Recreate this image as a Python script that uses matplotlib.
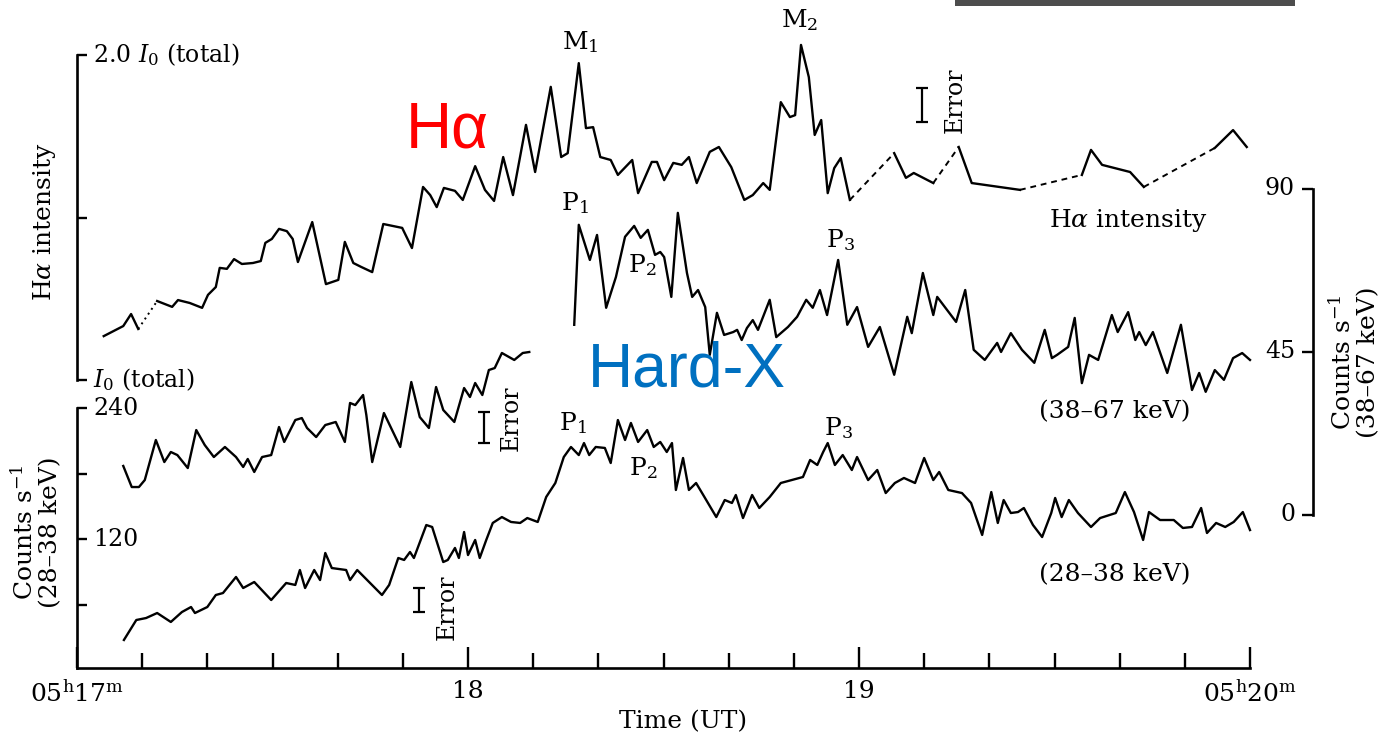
import matplotlib
matplotlib.use("Agg")
import matplotlib.pyplot as plt
from matplotlib.patches import Rectangle
import numpy as np

plt.rcParams['font.family'] = ['DejaVu Serif']
plt.rcParams['mathtext.fontset'] = 'dejavuserif'

# ---------------- data (time in seconds after 05h17m00s) ----------------
# H-alpha intensity (units of I0 total)
ha_t = [4.1, 7.1, 8.3, 9.4, 12.3, 14.6, 15.5, 17.3, 19.2, 20.1,
        21.3, 21.9, 23.0, 24.1, 25.3, 27.0, 28.2, 28.9, 29.9, 31.0,
        32.2, 33.1, 33.9, 36.1, 38.2, 40.1, 41.1, 42.4, 43.6, 45.3,
        47.0, 49.9, 51.4, 53.1, 54.2, 55.2, 56.3, 58.0, 59.2, 61.1,
        62.6, 64.0, 65.4, 66.9, 68.9, 70.3, 72.7, 74.3, 75.3, 77.0,
        78.1, 79.2, 80.3, 81.9, 83.0, 85.2, 86.1, 88.2, 89.0, 90.1,
        91.5, 92.8, 93.9, 95.1, 97.1, 98.5, 100.4, 102.4, 103.7, 105.3,
        106.3, 108.0, 109.4, 110.2, 111.1, 112.3, 113.2, 114.2, 115.2, 116.2,
        117.2, 118.6, 125.4, 127.2, 128.4, 131.4, 135.3, 137.3, 144.7, 154.2,
        155.6, 157.3, 161.6, 163.7, 174.6, 177.4, 179.5]
ha_v = [1.135, 1.166, 1.203, 1.157, 1.243, 1.225, 1.246, 1.237, 1.222, 1.262,
        1.286, 1.345, 1.342, 1.372, 1.357, 1.360, 1.366, 1.422, 1.434, 1.465,
        1.458, 1.434, 1.363, 1.486, 1.295, 1.308, 1.425, 1.360, 1.348, 1.332,
        1.480, 1.468, 1.406, 1.594, 1.569, 1.532, 1.591, 1.582, 1.554, 1.658,
        1.585, 1.551, 1.686, 1.569, 1.785, 1.640, 1.902, 1.686, 1.698, 1.975,
        1.775, 1.778, 1.686, 1.677, 1.631, 1.677, 1.575, 1.671, 1.671, 1.615,
        1.668, 1.662, 1.686, 1.606, 1.702, 1.717, 1.655, 1.554, 1.569, 1.606,
        1.585, 1.855, 1.809, 1.815, 2.031, 1.932, 1.754, 1.800, 1.575, 1.652,
        1.683, 1.554, 1.698, 1.622, 1.637, 1.606, 1.717, 1.606, 1.585, 1.631,
        1.708, 1.662, 1.640, 1.594, 1.714, 1.769, 1.717]
# indices i where the segment i -> i+1 is interpolated (broken line)
ha_gaps = [3, 81, 85, 88, 93]

# Hard X-ray 38-67 keV (counts/s, right axis)
hx_hi_t = [76.3, 77.0, 78.7, 79.8, 81.2, 82.7, 84.1, 85.5, 86.5, 87.6,
           88.7, 89.5, 90.1, 91.2, 92.2, 93.6, 94.4, 95.3, 96.4, 97.1,
           98.2, 99.3, 100.7, 101.3, 102.0, 102.8, 103.7, 104.5, 106.3, 107.3,
           109.1, 110.5, 111.9, 112.9, 114.0, 115.1, 116.8, 118.2, 119.7, 121.4,
           123.2, 125.4, 127.4, 128.1, 129.8, 131.4, 132.0, 134.9, 136.3, 137.6,
           139.3, 141.2, 141.8, 143.3, 145.0, 146.9, 148.5, 149.6, 150.4, 152.1,
           153.1, 154.2, 155.3, 156.7, 158.8, 159.7, 161.3, 162.4, 163.0, 164.0,
           165.1, 167.3, 169.4, 171.1, 172.2, 173.2, 174.6, 176.0, 177.4, 178.8,
           180.0]
hx_hi_v = [52.5, 80.1, 70.4, 77.3, 57.2, 65.7, 76.8, 79.8, 76.5, 78.7,
           71.8, 72.6, 71.2, 60.2, 83.4, 66.8, 60.2, 62.1, 57.4, 44.2,
           55.8, 49.7, 50.5, 51.1, 48.3, 51.6, 53.8, 51.1, 59.4, 49.1,
           51.9, 54.7, 59.4, 57.2, 62.1, 55.2, 70.4, 52.5, 57.4, 46.4,
           51.9, 38.7, 54.7, 50.2, 66.8, 55.2, 60.2, 53.3, 62.1, 45.6,
           42.8, 47.5, 45.0, 50.2, 45.6, 42.0, 51.1, 43.3, 44.2, 46.4,
           54.4, 36.4, 44.2, 42.8, 55.2, 50.5, 56.0, 48.3, 50.5, 46.9,
           50.5, 39.2, 52.5, 34.5, 39.2, 34.0, 40.0, 37.3, 43.3, 44.7,
           42.8]

# Hard X-ray early-phase trace (left lower axis)
hx_early_t = [7.1, 8.4, 9.5, 10.4, 12.1, 13.4, 14.4, 15.4, 17.0, 18.3,
              19.6, 21.0, 22.7, 24.4, 25.5, 26.2, 27.2, 28.4, 29.8, 31.0,
              31.8, 33.5, 34.5, 35.3, 36.7, 38.1, 39.7, 41.1, 41.9, 42.7,
              43.9, 44.4, 45.3, 47.1, 49.6, 51.3, 52.6, 54.0, 55.1, 56.2,
              57.9, 59.4, 60.3, 61.1, 62.2, 63.2, 64.1, 65.2, 67.1, 68.4,
              69.4]
hx_early_v = [186.9, 167.6, 167.6, 174.0, 210.7, 190.5, 199.7, 196.9, 185.0, 219.8,
              206.1, 195.1, 204.3, 195.1, 186.0, 193.3, 181.4, 195.1, 196.9, 222.6,
              208.9, 229.0, 230.8, 221.7, 213.4, 224.4, 227.2, 208.9, 244.6, 242.7,
              251.9, 233.6, 190.5, 235.4, 204.3, 263.8, 231.7, 221.7, 259.2, 238.2,
              227.2, 258.3, 250.1, 262.9, 251.9, 274.8, 276.6, 290.4, 284.0, 290.4,
              291.3]

# Hard X-ray 28-38 keV (counts/s, left lower axis)
hx_lo_t = [7.2, 9.1, 10.6, 12.3, 14.4, 16.1, 17.5, 18.1, 20.0, 21.3,
           22.4, 24.4, 25.5, 27.2, 29.8, 32.1, 33.5, 34.2, 35.0, 36.4,
           37.3, 38.1, 39.1, 41.3, 41.9, 43.0, 46.8, 47.9, 49.3, 50.2,
           51.1, 51.7, 53.6, 54.5, 56.2, 56.9, 58.0, 58.6, 59.4, 60.0,
           61.1, 61.8, 62.8, 63.8, 65.2, 66.6, 68.0, 69.1, 70.7, 72.0,
           73.4, 74.7, 75.8, 77.0, 77.8, 78.6, 79.6, 81.0, 81.9, 83.0,
           84.1, 85.0, 86.1, 87.5, 88.5, 89.5, 90.5, 91.3, 91.9, 93.0,
           93.9, 95.0, 96.1, 98.1, 99.4, 100.5, 101.1, 102.2, 103.6, 104.7,
           106.3, 108.0, 109.7, 111.4, 112.5, 113.6, 114.5, 115.2, 116.3, 117.5,
           118.9, 119.7, 121.4, 122.8, 124.1, 125.5, 126.9, 128.6, 130.0, 131.4,
           132.3, 133.7, 135.8, 137.2, 138.9, 140.3, 141.3, 142.2, 143.3, 144.4,
           145.3, 146.7, 148.1, 149.5, 150.1, 151.1, 152.2, 153.6, 155.6, 157.0,
           159.4, 160.8, 162.2, 163.6, 164.5, 166.2, 168.3, 169.7, 171.1, 172.5,
           173.4, 174.8, 176.2, 177.5, 178.9, 180.0]
hx_lo_v = [27.5, 45.8, 47.6, 52.2, 44.0, 53.1, 57.7, 52.2, 57.7, 68.7,
           70.5, 85.2, 75.1, 80.6, 64.1, 79.7, 77.9, 91.6, 75.1, 91.6,
           82.4, 107.2, 93.4, 91.6, 82.4, 91.6, 68.7, 77.9, 102.6, 100.8,
           108.1, 102.6, 132.8, 131.0, 98.9, 100.8, 111.8, 102.6, 126.4, 105.3,
           119.1, 102.6, 119.1, 134.7, 140.1, 135.6, 134.7, 139.2, 135.6, 158.5,
           171.3, 195.1, 204.3, 196.9, 207.9, 196.9, 204.3, 203.4, 189.6, 229.0,
           210.7, 226.3, 208.9, 219.8, 204.3, 208.9, 199.7, 207.9, 164.9, 194.2,
           164.9, 171.3, 160.3, 140.1, 155.7, 153.0, 160.3, 139.2, 160.3, 148.4,
           158.5, 171.3, 174.0, 176.8, 192.4, 187.8, 199.7, 207.9, 187.8, 196.9,
           183.2, 195.1, 174.0, 183.2, 162.1, 171.3, 175.9, 171.3, 194.2, 174.0,
           181.4, 164.9, 162.1, 153.0, 123.7, 163.0, 134.7, 155.7, 143.8, 144.7,
           148.4, 132.8, 121.8, 143.8, 157.6, 140.1, 155.7, 143.8, 131.0, 139.2,
           143.8, 163.0, 144.7, 119.1, 144.7, 137.4, 137.4, 130.1, 131.0, 148.4,
           125.5, 134.7, 131.0, 135.6, 144.7, 128.2]

time_ticks = [0, 60, 120, 180]
time_labels = [r'05$^{\mathrm{h}}$17$^{\mathrm{m}}$', '18', '19',
               r'05$^{\mathrm{h}}$20$^{\mathrm{m}}$']
ha_ticks = [1.0, 1.5, 2.0]
lo_ticks = [60, 120, 180, 240]
hi_ticks = [0, 45, 90]

# ---------------- figure ----------------
W, H = 1388, 738
fig = plt.figure(figsize=(W / 100, H / 100), dpi=100)
rect = [77 / W, 70 / H, 1173 / W, 658 / H]

LW_AX = 1.9
LW_LINE = 1.7
FS = 18

ax = fig.add_axes(rect)          # time axis + 28-38 keV counts
ax.set_xlim(0, 180)
ax.set_ylim(1.83, 604.6)
axh = fig.add_axes(rect, sharex=ax)   # H-alpha
axh.set_ylim(0.1138, 2.1385)
axr = fig.add_axes(rect, sharex=ax)   # 38-67 keV counts
axr.set_ylim(-42.24, 139.4)

for a in (axh, axr):
    a.patch.set_visible(False)
    a.xaxis.set_visible(False)

# spines
for a in (ax, axh, axr):
    for s in a.spines.values():
        s.set_visible(False)
        s.set_linewidth(LW_AX)
ax.spines['bottom'].set_visible(True)
ax.spines['left'].set_visible(True)
ax.spines['left'].set_bounds(1.83, 240)
axh.spines['left'].set_visible(True)
axh.spines['left'].set_bounds(1.0, 2.0)
axr.spines['right'].set_visible(True)
axr.spines['right'].set_position(('axes', 1 + 63 / 1173))
axr.spines['right'].set_bounds(0, 90)

# x ticks
ax.set_xticks(time_ticks)
ax.set_xticklabels(time_labels)
ax.set_xticks([t for t in range(10, 180, 10) if t % 60 != 0], minor=True)
ax.tick_params(axis='x', which='major', direction='in', length=15, width=1.7,
               pad=9, labelsize=FS)
ax.tick_params(axis='x', which='minor', direction='in', length=10.5, width=1.7)

# left lower y ticks
ax.set_yticks(lo_ticks)
ax.tick_params(axis='y', direction='in', length=7, width=1.7, labelleft=False)
for v in (120, 240):
    ax.text(0.0136, v, str(v), transform=ax.get_yaxis_transform(),
            ha='left', va='center', fontsize=17)

# H-alpha y ticks
axh.set_yticks(ha_ticks)
axh.tick_params(axis='y', direction='in', length=7, width=1.7, labelleft=False)
axh.text(0.0136, 2.0, r'2.0 $I_0$ (total)', transform=axh.get_yaxis_transform(),
         ha='left', va='center', fontsize=17)
axh.text(0.0136, 1.0, r'$I_0$ (total)', transform=axh.get_yaxis_transform(),
         ha='left', va='center', fontsize=17)

# right y ticks
axr.yaxis.tick_right()
axr.set_yticks(hi_ticks)
axr.tick_params(axis='y', direction='in', length=8, width=1.7, labelright=False)
for v in hi_ticks:
    axr.text(1.0384, v, str(v), transform=axr.get_yaxis_transform(),
             ha='right', va='center', fontsize=17)

# ---------------- curves ----------------
ha_t_a = np.array(ha_t)
ha_v_a = np.array(ha_v)
start = 0
for k, g in enumerate(ha_gaps + [len(ha_t) - 1]):
    axh.plot(ha_t_a[start:g + 1], ha_v_a[start:g + 1], color='k', lw=LW_LINE,
             clip_on=False)
    if g < len(ha_t) - 1:
        ls = (0, (1, 2)) if k == 0 else (0, (3, 2.5))
        axh.plot(ha_t_a[g:g + 2], ha_v_a[g:g + 2], color='k', lw=1.4,
                 linestyle=ls, clip_on=False)
    start = g + 1

axr.plot(hx_hi_t, hx_hi_v, color='k', lw=LW_LINE, clip_on=False)
ax.plot(hx_early_t, hx_early_v, color='k', lw=LW_LINE, clip_on=False)
ax.plot(hx_lo_t, hx_lo_v, color='k', lw=LW_LINE, clip_on=False)

# error bars
axh.errorbar([129.7], [1.846], yerr=[0.052], fmt='none', ecolor='k',
             elinewidth=1.6, capsize=4, capthick=1.6)
ax.errorbar([62.5], [222.1], yerr=[14.2], fmt='none', ecolor='k',
            elinewidth=1.6, capsize=4, capthick=1.6)
ax.errorbar([52.5], [64.1], yerr=[11.0], fmt='none', ecolor='k',
            elinewidth=1.6, capsize=4, capthick=1.6)
axh.text(134.7, 1.862, 'Error', rotation=90, ha='center', va='center', fontsize=17)
ax.text(66.7, 230.8, 'Error', rotation=90, ha='center', va='center', fontsize=17)
ax.text(56.8, 57.7, 'Error', rotation=90, ha='center', va='center', fontsize=17)

# annotations
axh.text(77.2, 2.04, r'M$_1$', ha='center', va='center', fontsize=FS)
axh.text(110.9, 2.108, r'M$_2$', ha='center', va='center', fontsize=FS)
axr.text(76.4, 86.1, r'P$_1$', ha='center', va='center', fontsize=FS)
axr.text(86.7, 69.0, r'P$_2$', ha='center', va='center', fontsize=FS)
axr.text(117.1, 75.9, r'P$_3$', ha='center', va='center', fontsize=FS)
ax.text(76.1, 226.0, r'P$_1$', ha='center', va='center', fontsize=FS)
ax.text(86.9, 185.0, r'P$_2$', ha='center', va='center', fontsize=FS)
ax.text(116.8, 221.7, r'P$_3$', ha='center', va='center', fontsize=FS)
axr.text(161.3, 81.4, r'H$\alpha$ intensity', ha='center', va='center', fontsize=FS)
axr.text(159.3, 28.4, '(38–67 keV)', ha='center', va='center', fontsize=FS)
ax.text(159.3, 87.0, '(28–38 keV)', ha='center', va='center', fontsize=FS)

axh.text(56.8, 1.769, 'Hα', color='#ff0000', ha='center', va='center',
         fontsize=46, family='Liberation Sans')
axr.text(93.6, 40.0, 'Hard-X', color='#0070c0', ha='center', va='center',
         fontsize=45, family='Liberation Sans')

# axis titles
fig.text(45 / W, 1 - 222 / H, r'H$\alpha$ intensity', rotation=90,
         ha='center', va='center', fontsize=FS)
fig.text(37 / W, 1 - 532 / H, 'Counts s$^{-1}$\n(28–38 keV)', rotation=90,
         ha='center', va='center', fontsize=FS, multialignment='center',
         linespacing=1.1)
fig.text(1355 / W, 1 - 362 / H, 'Counts s$^{-1}$\n(38–67 keV)', rotation=90,
         ha='center', va='center', fontsize=FS, multialignment='center',
         linespacing=1.1)
fig.text(683 / W, 1 - 722 / H, 'Time (UT)', ha='center', va='center', fontsize=FS)

# scan artefact band at the top right
fig.add_artist(Rectangle((955 / W, 1 - 6 / H), 340 / W, 6 / H,
                         transform=fig.transFigure, color='#4d4d4d', lw=0))

fig.savefig('out.png', dpi=100)
